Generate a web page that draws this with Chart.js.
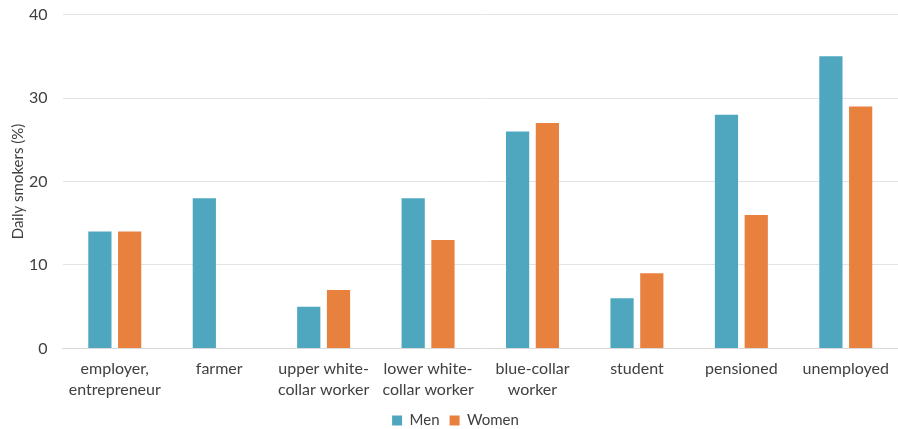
<!DOCTYPE html>
<html>
<head>
<meta charset="utf-8">
<script src="https://cdn.jsdelivr.net/npm/chart.js@4/dist/chart.umd.min.js"></script>
<style>
  html, body { margin: 0; padding: 0; background: #fff; }
  #wrap { width: 898px; height: 429px; position: relative; overflow: hidden; }
</style>
</head>
<body>
<div id="wrap"><canvas id="smokers"></canvas></div>
<script>
// occupational groups
var categories = [
    ['employer,', 'entrepreneur'],
    'farmer',
    ['upper white-', 'collar worker'],
    ['lower white-', 'collar worker'],
    ['blue-collar', 'worker'],
    'student',
    'pensioned',
    'unemployed'
];

var menValues = [14, 18, 5, 18, 26, 6, 28, 35];
var womenValues = [14, null, 7, 13, 27, 9, 16, 29];

var yTicks = [0, 10, 20, 30, 40];

Chart.defaults.font.family = 'Lato, "Open Sans", sans-serif';
Chart.defaults.color = '#404040';

new Chart(document.getElementById('smokers').getContext('2d'), {
    type: 'bar',
    data: {
        labels: categories,
        datasets: [
            {
                label: 'Men',
                data: menValues,
                backgroundColor: '#4ea7bf'
            },
            {
                label: 'Women',
                data: womenValues,
                backgroundColor: '#e8803e'
            }
        ]
    },
    options: {
        responsive: true,
        maintainAspectRatio: false,
        animation: false,
        categoryPercentage: 0.57,
        barPercentage: 0.78,
        layout: {
            padding: { top: 0, right: -4, left: 9, bottom: -9 }
        },
        scales: {
            x: {
                grid: { display: false, drawTicks: false },
                border: { color: '#d9d9d9' },
                ticks: {
                    font: { size: 16, lineHeight: 1.3 },
                    color: '#404040',
                    maxRotation: 0,
                    autoSkip: false,
                    padding: 10
                },
                // legend got taller, give that space back; let the plot run to the edge
                afterFit: function(axis) {
                    axis.height -= 7;
                    axis.paddingRight = 0;
                }
            },
            y: {
                min: 0,
                max: 40,
                afterBuildTicks: function(axis) {
                    axis.ticks = yTicks.map(function(v) { return { value: v }; });
                },
                // transparent tick marks keep the gap between labels and plot
                grid: { color: '#e3e3e3', tickLength: 10, tickColor: 'rgba(0,0,0,0)' },
                border: { display: false },
                ticks: {
                    font: { size: 16 },
                    color: '#404040',
                    padding: 5
                },
                title: {
                    display: true,
                    text: 'Daily smokers (%)',
                    font: { size: 15 },
                    color: '#404040',
                    padding: { top: 0, bottom: -3 }
                }
            }
        },
        plugins: {
            legend: {
                position: 'bottom',
                labels: {
                    boxWidth: 10,
                    boxHeight: 10,
                    font: { size: 15 },
                    color: '#404040',
                    padding: 10
                }
            },
            tooltip: { enabled: false }
        }
    }
});
</script>
</body>
</html>
